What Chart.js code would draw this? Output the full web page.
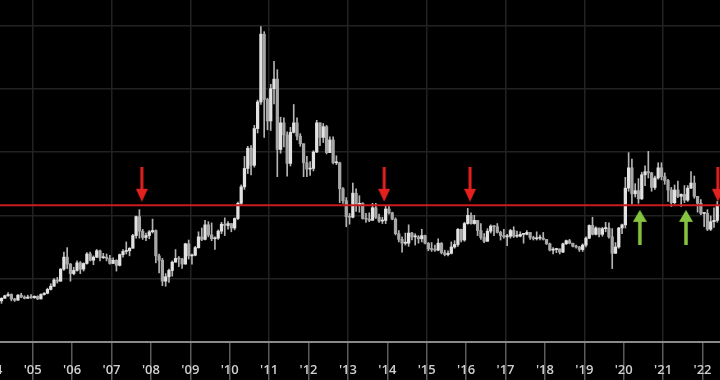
<!DOCTYPE html>
<html lang="en">
<head>
<meta charset="UTF-8">
<title>Silver monthly</title>
<script src="https://cdn.jsdelivr.net/npm/chart.js"></script>
<style>
  html, body { margin: 0; padding: 0; background: #000; }
  #grafico { display: block; }
</style>
</head>
<body>
<canvas id="grafico" width="720" height="380"></canvas>
<script>
// monthly candles, Sep 2004 .. Nov 2022 (open = previous close)
const startYear = 2004;
const startMonth = 9;
const firstOpen = 6.5;

const closes = [
  6.9, 7.3, 7.5, 6.8,
  6.6, 7.4, 7.1, 6.9, 7.1, 7.0, 7.2, 6.8, 7.5, 7.7, 8.3, 8.8,
  9.8, 9.6, 11.5, 13.4, 12.3, 10.8, 11.3, 12.5, 11.5, 12.4, 13.9, 12.9,
  13.4, 14.4, 13.3, 13.4, 13.2, 12.4, 12.9, 12.1, 13.8, 14.3, 14.4, 14.8,
  16.8, 19.8, 17.5, 16.5, 16.8, 17.4, 17.6, 13.6, 12.9, 9.6, 10.3, 11.3,
  12.6, 13.2, 13.1, 12.3, 15.5, 13.6, 13.7, 14.9, 16.6, 16.2, 18.5, 16.9,
  16.3, 16.4, 17.5, 18.6, 18.4, 18.7, 18.0, 19.5, 21.9, 24.5, 27.4, 30.6,
  27.9, 33.7, 37.9, 48.6, 38.3, 34.9, 40.0, 41.5, 30.4, 34.6, 32.7, 28.2,
  33.1, 34.6, 32.5, 31.3, 28.3, 27.3, 27.4, 30.0, 34.6, 32.3, 34.0, 29.9,
  31.9, 28.3, 28.3, 24.2, 22.3, 19.8, 19.7, 23.5, 21.7, 21.9, 19.5, 19.4,
  19.2, 21.2, 19.7, 19.1, 19.2, 21.0, 20.4, 19.4, 17.1, 16.2, 15.6, 15.6,
  17.2, 16.6, 16.6, 16.3, 16.8, 15.6, 14.7, 14.6, 14.5, 15.6, 14.1, 13.8,
  14.0, 15.0, 15.4, 17.8, 16.1, 18.7, 20.0, 18.7, 19.2, 17.6, 16.5, 15.9,
  17.5, 18.3, 18.2, 17.3, 16.8, 16.6, 16.7, 17.6, 16.7, 16.7, 17.0, 17.0,
  17.3, 16.5, 16.3, 16.4, 16.4, 16.2, 15.5, 14.5, 14.6, 14.7, 14.2, 15.5,
  16.0, 15.6, 15.1, 15.0, 14.6, 15.3, 16.4, 18.4, 17.0, 18.0, 17.0, 17.9,
  18.0, 16.6, 14.0, 15.0, 18.0, 18.5, 24.3, 27.5, 23.4, 23.9, 22.6, 26.4,
  26.9, 26.7, 24.4, 25.9, 27.5, 26.1, 25.5, 24.0, 22.0, 24.0, 23.0, 23.3,
  22.4, 24.3, 25.1, 23.0, 21.9, 20.3, 20.3, 17.8, 19.0, 19.2, 21.6
];

const highs = [
  7.0, 7.4, 7.8, 7.6,
  6.9, 7.5, 7.7, 7.3, 7.4, 7.5, 7.3, 7.3, 7.6, 7.8, 8.5, 9.2,
  10.0, 10.2, 11.6, 14.2, 14.9, 12.4, 11.8, 12.8, 12.7, 12.5, 14.1, 14.2,
  13.6, 14.6, 14.5, 14.0, 13.9, 13.7, 13.3, 13.0, 13.9, 14.6, 15.8, 14.9,
  17.0, 19.9, 20.9, 17.8, 17.2, 17.6, 19.4, 17.7, 13.9, 13.2, 10.8, 11.5,
  12.8, 14.6, 13.5, 13.2, 15.6, 16.1, 13.9, 15.1, 17.4, 18.0, 19.2, 19.0,
  18.8, 16.6, 17.7, 18.9, 19.6, 19.0, 18.7, 19.6, 22.1, 24.8, 29.3, 30.9,
  31.0, 34.2, 38.2, 49.8, 49.0, 38.5, 40.7, 44.3, 43.0, 35.5, 35.4, 33.2,
  33.9, 37.5, 35.4, 32.9, 31.3, 29.3, 28.5, 30.2, 35.0, 34.6, 34.5, 34.2,
  32.4, 32.4, 29.4, 28.4, 24.4, 22.8, 20.3, 25.1, 24.2, 23.1, 22.0, 20.3,
  20.4, 21.9, 21.9, 20.2, 19.7, 21.5, 21.6, 20.5, 19.6, 17.6, 16.6, 17.2,
  18.5, 17.3, 17.1, 16.8, 17.8, 16.9, 15.7, 15.7, 15.3, 16.3, 15.7, 14.5,
  14.4, 15.8, 16.0, 17.9, 17.8, 18.9, 21.1, 20.4, 20.0, 19.2, 18.7, 17.1,
  17.9, 18.5, 18.4, 18.7, 17.5, 17.8, 17.0, 17.8, 18.2, 17.5, 17.4, 17.1,
  17.6, 17.3, 16.7, 17.4, 16.9, 17.3, 16.2, 15.6, 14.9, 14.8, 14.7, 15.6,
  16.1, 16.2, 15.6, 15.3, 15.1, 15.5, 16.6, 18.5, 19.7, 18.2, 18.0, 18.1,
  18.9, 18.8, 17.9, 15.7, 18.1, 18.6, 26.0, 29.9, 28.9, 25.0, 25.8, 26.8,
  27.8, 30.1, 26.8, 26.2, 28.3, 28.3, 26.7, 25.7, 24.4, 24.8, 25.4, 23.4,
  24.7, 24.7, 26.9, 26.2, 23.0, 22.5, 20.4, 20.9, 19.9, 21.2, 22.2
];

const lows = [
  6.1, 6.9, 7.2, 6.5,
  6.4, 6.6, 7.0, 6.8, 6.9, 6.9, 6.9, 6.7, 6.8, 7.4, 7.6, 8.2,
  8.8, 9.3, 9.6, 11.3, 11.6, 9.6, 10.6, 11.2, 10.8, 11.2, 12.3, 12.8,
  12.2, 13.3, 12.8, 13.2, 12.8, 12.3, 12.4, 11.2, 12.0, 13.4, 13.9, 13.6,
  14.8, 16.4, 16.4, 16.2, 16.0, 16.3, 17.2, 12.5, 10.9, 8.9, 8.8, 9.4,
  10.4, 12.6, 11.9, 11.6, 12.3, 13.1, 12.3, 13.6, 14.8, 16.0, 16.1, 16.6,
  16.0, 14.6, 16.2, 17.1, 16.8, 17.8, 17.4, 17.7, 19.3, 21.6, 24.1, 26.6,
  26.4, 27.6, 33.0, 37.5, 32.3, 33.5, 33.4, 37.6, 26.1, 29.8, 30.8, 26.2,
  27.8, 33.0, 31.9, 30.9, 26.1, 26.1, 26.3, 27.0, 29.9, 31.0, 31.5, 29.7,
  29.9, 28.1, 28.0, 22.0, 21.9, 18.2, 18.6, 19.6, 20.6, 20.5, 19.4, 18.9,
  19.0, 19.3, 19.5, 18.9, 18.7, 18.7, 20.2, 19.3, 16.9, 15.8, 14.2, 15.3,
  15.1, 16.1, 15.3, 15.6, 15.8, 15.5, 14.4, 14.3, 14.3, 14.4, 13.9, 13.6,
  13.6, 13.9, 14.8, 15.1, 15.8, 15.9, 18.6, 18.6, 18.6, 16.8, 16.2, 15.7,
  15.9, 17.2, 16.8, 17.2, 16.1, 16.4, 15.2, 16.4, 16.5, 16.5, 16.6, 15.6,
  16.9, 16.2, 16.1, 16.1, 16.1, 16.1, 15.4, 14.4, 13.9, 14.1, 13.9, 14.1,
  15.4, 15.5, 15.0, 14.8, 14.3, 14.3, 15.0, 16.3, 16.9, 16.9, 16.6, 16.7,
  17.4, 16.4, 11.6, 14.0, 14.8, 17.1, 18.0, 23.8, 21.8, 22.9, 21.9, 22.5,
  24.7, 25.9, 23.8, 24.1, 25.7, 25.6, 24.9, 22.2, 21.4, 21.8, 22.8, 21.4,
  22.0, 22.2, 24.2, 22.7, 20.5, 20.1, 18.2, 17.6, 17.6, 18.1, 18.9
];

// resistance level and arrow markers (year, price)
const nivelResistencia = 21.6;
const setasBaixaX = [2008.27, 2014.42, 2016.6, 2022.89];
const setasBaixaY = [24.9, 24.9, 24.9, 24.9];
const setasAltaX = [2020.91, 2022.08];
const setasAltaY = [18.1, 18.1];

const xMin = 2004.67;
const xMax = 2022.944;

// build candle pieces
const meses = closes.map((c, i) => startYear + (startMonth - 1 + i + 0.5) / 12);
const opens = closes.map((c, i) => i === 0 ? firstOpen : closes[i - 1]);
const corpos = meses.map((t, i) => ({ x: t, y: [opens[i], closes[i]] }));
const pavios = meses.map((t, i) => ({ x: t, y: [lows[i], highs[i]] }));
const coresCorpo = closes.map((c, i) => c >= opens[i] ? '#e2e2e2' : '#a8a8a8');

function desenharSeta(cor, paraBaixo, larg, alt, haste, cabeca) {
  const c = document.createElement('canvas');
  c.width = larg; c.height = alt;
  const g = c.getContext('2d');
  g.fillStyle = cor;
  const meio = larg / 2;
  if (paraBaixo) {
    g.fillRect(meio - haste / 2, 0, haste, alt - cabeca + 1);
    g.beginPath();
    g.moveTo(0, alt - cabeca); g.lineTo(larg, alt - cabeca); g.lineTo(meio, alt);
    g.closePath(); g.fill();
  } else {
    g.fillRect(meio - haste / 2, cabeca - 1, haste, alt - cabeca + 1);
    g.beginPath();
    g.moveTo(0, cabeca); g.lineTo(larg, cabeca); g.lineTo(meio, 0);
    g.closePath(); g.fill();
  }
  return c;
}
const setaVermelha = desenharSeta('#e3211f', true, 12, 35, 3, 13);
const setaVerde = desenharSeta('#86c440', false, 14, 35, 3.5, 12);

new Chart(document.getElementById('grafico'), {
  type: 'bar',
  data: {
    datasets: [
      {
        type: 'scatter', order: 0,
        data: setasBaixaX.map((x, i) => ({ x: x, y: setasBaixaY[i] })),
        pointStyle: setaVermelha, pointRadius: 6
      },
      {
        type: 'scatter', order: 0,
        data: setasAltaX.map((x, i) => ({ x: x, y: setasAltaY[i] })),
        pointStyle: setaVerde, pointRadius: 7
      },
      {
        type: 'line', order: 1,
        data: [{ x: xMin, y: nivelResistencia }, { x: xMax, y: nivelResistencia }],
        borderColor: '#cc1b1e', borderWidth: 2, pointRadius: 0
      },
      {
        order: 2, grouped: false,
        data: corpos,
        backgroundColor: coresCorpo,
        barThickness: 2.6, minBarLength: 1
      },
      {
        order: 3, grouped: false,
        data: pavios,
        backgroundColor: '#b4b4b4',
        barThickness: 1
      }
    ]
  },
  options: {
    responsive: false,
    animation: false,
    layout: { padding: 0, autoPadding: false },
    plugins: { legend: { display: false }, tooltip: { enabled: false } },
    scales: {
      x: {
        type: 'linear', min: xMin, max: xMax, offset: false,
        border: { display: true, color: '#8a8a8a', width: 2 },
        grid: {
          color: ctx => (ctx.tick && ctx.tick.value % 2 === 0) ? '#222222' : 'rgba(0,0,0,0)',
          tickColor: '#5a5a5a', tickLength: 38, lineWidth: 1.5
        },
        ticks: {
          stepSize: 1, includeBounds: false, autoSkip: false, maxRotation: 0,
          labelOffset: 19.7, padding: -18,
          color: '#cfcfcf', font: { family: 'Open Sans', size: 13, weight: '600' },
          callback: v => Number.isInteger(v) ? "'" + String(v).slice(2) : ''
        },
        // o ano 2004 começa fora da área, mas o rótulo aparece cortado na borda
        afterBuildTicks: s => { s.ticks.unshift({ value: 2004 }); },
        afterFit: s => { s.height = 38; s.paddingLeft = 0; s.paddingRight = 0; }
      },
      y: {
        min: 0, max: 54,
        border: { display: false },
        grid: {
          color: ctx => ctx.tick.value === 0 ? 'rgba(0,0,0,0)' : '#222222',
          drawTicks: false, lineWidth: 1.5
        },
        ticks: { display: false, stepSize: 10, includeBounds: false },
        afterFit: s => { s.width = 0; }
      }
    }
  }
});
</script>
</body>
</html>
